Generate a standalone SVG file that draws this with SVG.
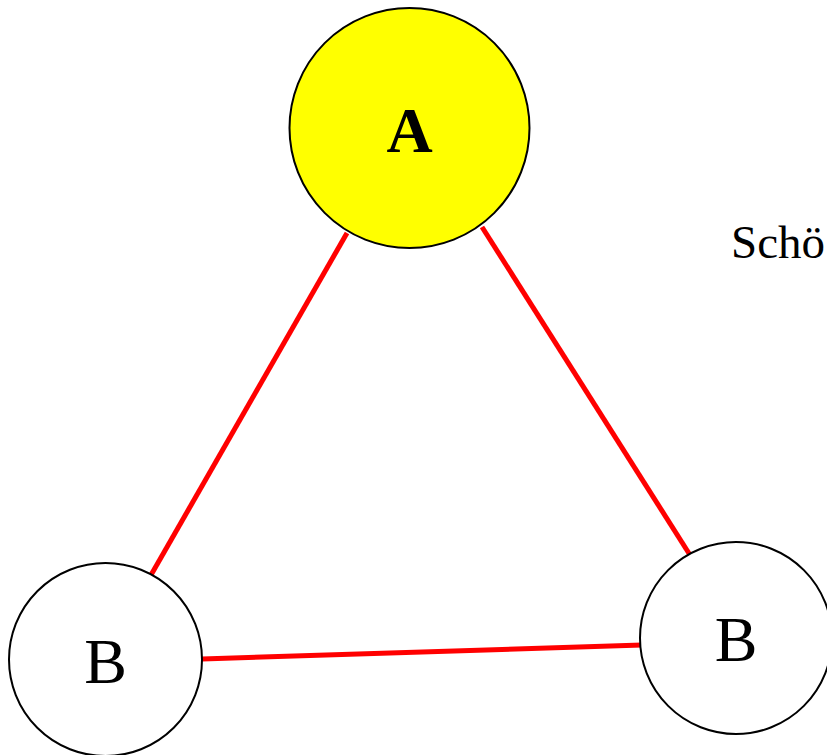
<svg xmlns="http://www.w3.org/2000/svg" width="827" height="755" viewBox="0 0 827 755">
<style>
.node{stroke:#000;stroke-width:2}
.lbl{font-family:"Liberation Serif","Times New Roman",serif;fill:#000;text-anchor:middle}
.edge{stroke:#ff0000;stroke-width:5;fill:none}
</style>
<rect width="827" height="755" fill="#fff"/>
<g id="connectors">
<line class="edge" x1="347" y1="233" x2="151" y2="575"/>
<line class="edge" x1="482" y1="227" x2="690" y2="555"/>
<line class="edge" x1="202" y1="659" x2="642" y2="645"/>
</g>
<g id="nodeA">
<circle class="node" cx="409.5" cy="128" r="120" fill="#ffff00"/>
<text class="lbl" x="409.5" y="152" font-size="64" font-weight="bold">A</text>
</g>
<g id="nodeB1">
<circle class="node" cx="105.5" cy="659.5" r="96.5" fill="#fff"/>
<text class="lbl" x="105.5" y="683" font-size="64">B</text>
</g>
<g id="nodeB2">
<circle class="node" cx="736" cy="638" r="96" fill="#fff"/>
<text class="lbl" x="736" y="661" font-size="64">B</text>
</g>
<text x="731" y="258" font-family="Liberation Serif,'Times New Roman',serif" font-size="47" fill="#000">Schö</text>
</svg>
